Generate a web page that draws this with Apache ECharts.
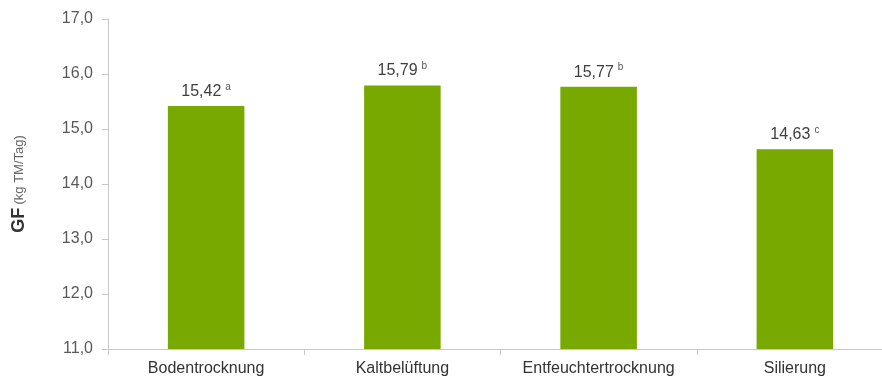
<!DOCTYPE html>
<html>
<head>
<meta charset="utf-8">
<script src="https://cdn.jsdelivr.net/npm/echarts@6/dist/echarts.min.js"></script>
<style>
  html, body { margin: 0; padding: 0; background: #fff; overflow: hidden; }
  #chart { width: 893px; height: 380px; }
</style>
</head>
<body>
<div id="chart"></div>
<script>
// Grundfutteraufnahme je Konservierungsverfahren
const categories = ['Bodentrocknung', 'Kaltbelüftung', 'Entfeuchtertrocknung', 'Silierung'];
const values = [15.42, 15.79, 15.77, 14.63];
const letters = ['a', 'b', 'b', 'c'];
const yTicks = [11, 12, 13, 14, 15, 16, 17];

const fmt = v => v.toFixed(2).replace('.', ',');

const chart = echarts.init(document.getElementById('chart'));
chart.setOption({
  animation: false,
  textStyle: { fontFamily: 'Liberation Sans, Arial, sans-serif' },
  grid: { left: 108, right: 0, top: 19, bottom: 31, containLabel: false },
  xAxis: {
    type: 'category',
    data: categories,
    axisLine: { lineStyle: { color: '#c8c8c8', width: 1 } },
    axisTick: { show: true, length: 6, lineStyle: { color: '#c8c8c8' } },
    axisLabel: { color: '#333', fontSize: 16, margin: 12, interval: 0 }
  },
  yAxis: {
    type: 'value',
    min: yTicks[0],
    max: yTicks[yTicks.length - 1],
    interval: 1,
    name: '{b|GF} {s|(kg TM/Tag)}',
    nameLocation: 'middle',
    nameRotate: 90,
    nameGap: 80,
    nameTextStyle: {
      rich: {
        b: { fontSize: 18, fontWeight: 'bold', color: '#333' },
        s: { fontSize: 13, color: '#666' }
      }
    },
    axisLine: { show: true, lineStyle: { color: '#c8c8c8' } },
    axisTick: { show: true, length: 6, lineStyle: { color: '#c8c8c8' } },
    splitLine: { show: false },
    axisLabel: {
      color: '#595959', fontSize: 16, margin: 15,
      formatter: v => v.toFixed(1).replace('.', ',')
    }
  },
  series: [{
    type: 'bar',
    data: values,
    barWidth: '39%',
    itemStyle: { color: '#78a900' },
    label: {
      show: true,
      position: 'top',
      distance: 5,
      formatter: p => '{v|' + fmt(p.value) + '}{sup|' + letters[p.dataIndex] + '}',
      rich: {
        v: { fontSize: 16, color: '#404040' },
        sup: { fontSize: 10, color: '#555', padding: [0, 0, 9, 4] }
      }
    }
  }]
});
</script>
</body>
</html>
